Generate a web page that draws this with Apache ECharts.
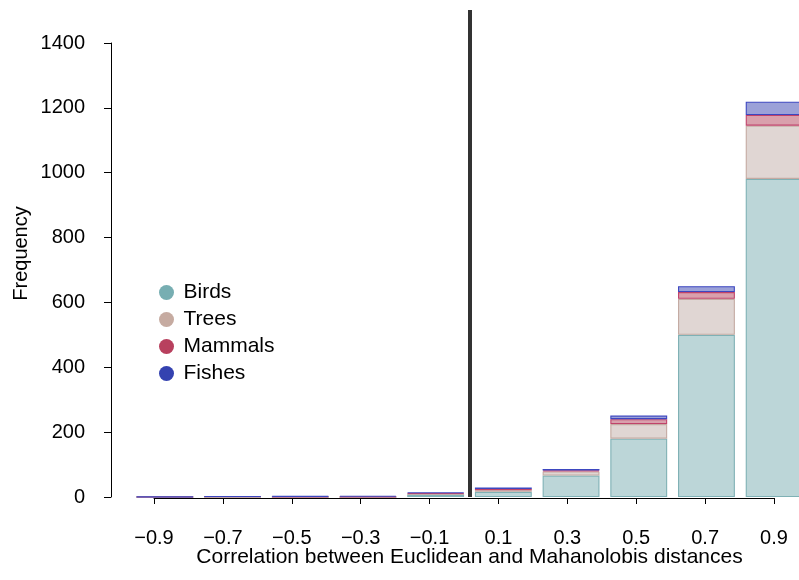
<!DOCTYPE html>
<html>
<head>
<meta charset="utf-8">
<script src="https://cdn.jsdelivr.net/npm/echarts@6/dist/echarts.min.js"></script>
<style>
  html, body { margin: 0; padding: 0; background: #fff; }
  #chart { width: 799px; height: 580px; }
</style>
</head>
<body>
<div id="chart"></div>
<script>
// bins of the correlation histogram (bin centres)
const bins = ['\u22120.9', '\u22120.7', '\u22120.5', '\u22120.3', '\u22120.1', '0.1', '0.3', '0.5', '0.7', '0.9']
// counts per group, stacked bottom to top
const birds = [0, 0, 0, 0, 6, 16, 66, 180, 500, 981]
const trees = [0, 1, 0, 0, 4, 5, 13, 45, 111, 164]
const mammals = [0, 0, 1, 1, 2, 4, 3, 15, 21, 33]
const fishes = [1, 1, 2, 3, 2, 4, 4, 11, 18, 41]
const yTicks = { min: 0, max: 1400, step: 200 }
const zeroAt = 0 // vertical reference line (correlation = 0)

const font = 'Liberation Sans, Arial, Helvetica, sans-serif'
const groups = [
  { name: 'Birds', data: birds, fill: '#bcd6d8', line: '#7fb1b5', dot: '#77aeb2' },
  { name: 'Trees', data: trees, fill: '#e0d6d3', line: '#c4aaa2', dot: '#c6aba1' },
  { name: 'Mammals', data: mammals, fill: '#d9a0ac', line: '#c0436a', dot: '#b8405e' },
  { name: 'Fishes', data: fishes, fill: '#9ba1d8', line: '#3d47c0', dot: '#3442b0' }
]

const hidden = {
  axisLine: { show: false },
  axisTick: { show: false },
  axisLabel: { show: false },
  splitLine: { show: false }
}

const series = groups.map(g => ({
  name: g.name,
  type: 'bar',
  stack: 'all',
  xAxisIndex: 0,
  yAxisIndex: 0,
  barCategoryGap: '16%',
  data: g.data,
  itemStyle: { color: g.fill, borderColor: g.line, borderWidth: 1.1 },
  silent: true
}))

series.push({
  type: 'line',
  xAxisIndex: 2,
  yAxisIndex: 2,
  data: [],
  silent: true,
  markLine: {
    silent: true,
    symbol: ['none', 'none'],
    label: { show: false },
    lineStyle: { color: '#333', width: 4, type: 'solid' },
    data: [{ xAxis: zeroAt }]
  }
})

const option = {
  animation: false,
  backgroundColor: '#fff',
  textStyle: { fontFamily: font, color: '#000' },
  grid: [
    { left: 131, width: 677, top: 43, bottom: 83, outerBoundsMode: 'none' },
    { left: 154, width: 620, top: 43, bottom: 82, outerBoundsMode: 'none' },
    { left: 131, width: 677, top: 10, bottom: 83, outerBoundsMode: 'none' }
  ],
  legend: {
    orient: 'vertical',
    left: 159,
    top: 282,
    padding: 0,
    icon: 'circle',
    itemWidth: 24,
    itemHeight: 15,
    itemGap: 6,
    textStyle: { fontSize: 21, color: '#000', fontFamily: font },
    data: groups.map(g => ({ name: g.name, itemStyle: { color: g.dot, borderWidth: 0 } }))
  },
  xAxis: [
    { gridIndex: 0, type: 'category', data: bins, show: false },
    {
      gridIndex: 1,
      type: 'category',
      data: bins,
      boundaryGap: false,
      axisLine: { lineStyle: { color: '#000', width: 1 } },
      axisTick: { length: 6, lineStyle: { color: '#000' } },
      axisLabel: { margin: 30, fontSize: 20, color: '#000', fontFamily: font, interval: 0 },
      splitLine: { show: false }
    },
    Object.assign({
      gridIndex: 2,
      type: 'value',
      min: -1,
      max: 1,
      name: 'Correlation between Euclidean and Mahanolobis distances',
      nameLocation: 'middle',
      nameGap: 50,
      nameTextStyle: { fontSize: 21, color: '#000', fontFamily: font }
    }, hidden)
  ],
  yAxis: [
    {
      gridIndex: 0,
      type: 'value',
      min: yTicks.min,
      max: yTicks.max,
      interval: yTicks.step,
      offset: 20,
      axisLine: { show: true, lineStyle: { color: '#000', width: 1 } },
      axisTick: { show: true, length: 7, lineStyle: { color: '#000' } },
      axisLabel: { margin: 26, fontSize: 20, color: '#000', fontFamily: font, formatter: v => String(v) },
      splitLine: { show: false }
    },
    Object.assign({ gridIndex: 1, type: 'value', min: yTicks.min, max: yTicks.max }, hidden),
    Object.assign({
      gridIndex: 2,
      type: 'value',
      min: 0,
      max: 1,
      name: 'Frequency',
      nameLocation: 'middle',
      nameGap: 100,
      nameTextStyle: { fontSize: 20, color: '#000', fontFamily: font }
    }, hidden)
  ],
  series: series
}

const myChart = echarts.init(document.getElementById('chart'), null, { renderer: 'canvas' })
myChart.setOption(option)
</script>
</body>
</html>
